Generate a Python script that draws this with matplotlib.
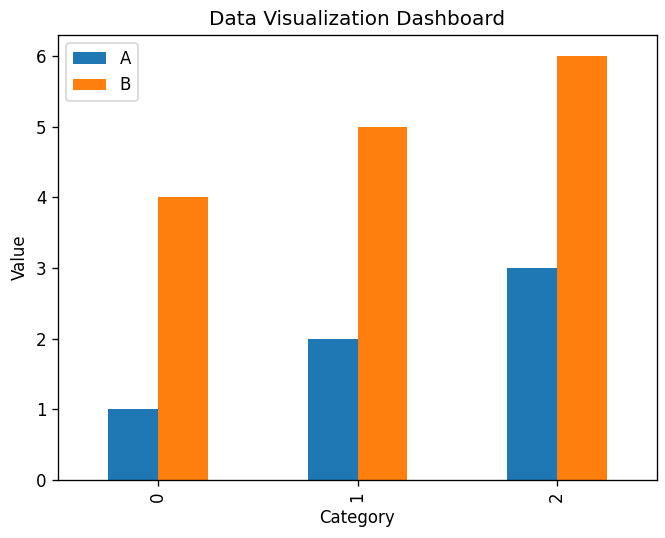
import matplotlib
matplotlib.use("Agg")
import matplotlib.pyplot as plt
import pandas as pd

categories = [0, 1, 2]
values_a = [1, 2, 3]
values_b = [4, 5, 6]

df = pd.DataFrame({"A": values_a, "B": values_b}, index=categories)

W, H, DPI = 665, 538, 120
fig = plt.figure(figsize=(W / DPI, H / DPI), dpi=DPI)
ax = fig.add_axes([58 / W, 1 - 480 / H, (657 - 58) / W, (480 - 35) / H])
df.plot(kind="bar", ax=ax)
ax.set_title("Data Visualization Dashboard")
ax.set_xlabel("Category")
ax.set_ylabel("Value")
fig.savefig("out.png", dpi=DPI)
